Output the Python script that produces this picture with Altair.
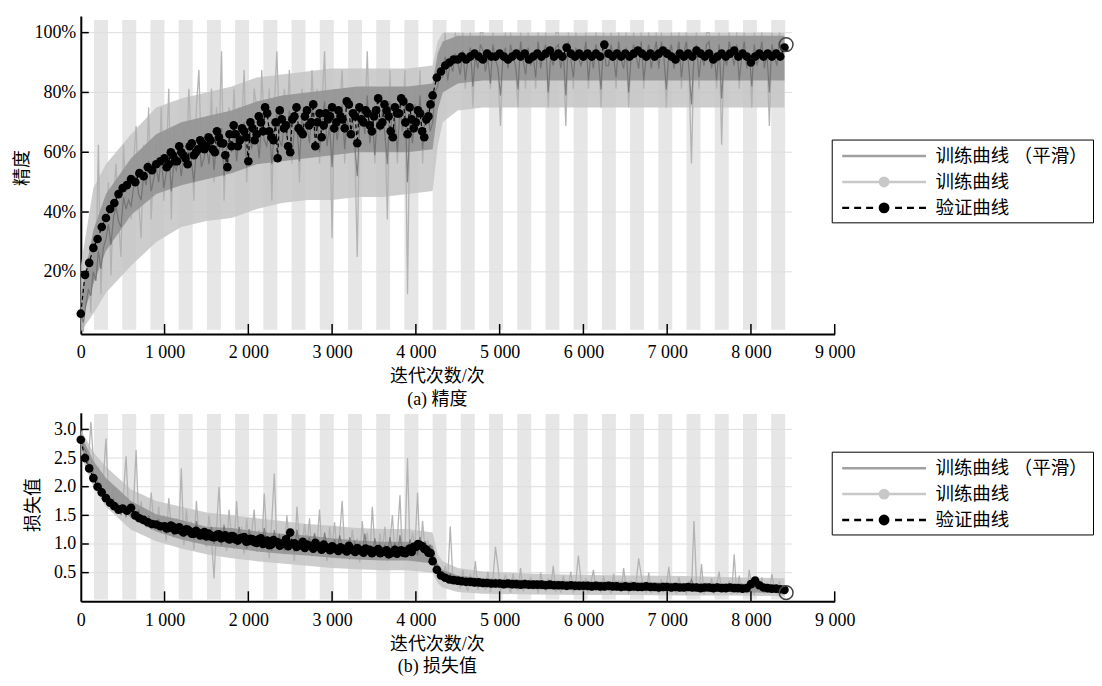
import altair as alt
import pandas as pd

FONT = "Liberation Serif, Noto Sans CJK SC"

# ---------------- data ----------------
TRAIN_STEP = 30          # iterations between recorded training values
VAL_STEP = 50            # iterations between validation values
VAL_EXTRA_START = 1025   # extra validation points between 1 000 and 4 200
FINAL_ITER = 8420

# raw training accuracy, in sixteenths (mini-batch of 16)
acc_train_16 = [
    1, 0, 2, 4, 1, 5, 3, 10, 2, 6,
    5, 8, 3, 7, 9, 6, 4, 10, 7, 8,
    6, 9, 11, 7, 5, 10, 8, 12, 6, 9,
    10, 8, 12, 7, 9, 13, 6, 11, 9, 10,
    8, 11, 9, 13, 10, 7, 12, 14, 9, 10,
    11, 9, 13, 8, 12, 10, 15, 7, 11, 12,
    10, 13, 9, 12, 11, 14, 8, 12, 10, 13,
    12, 9, 14, 11, 10, 13, 7, 12, 15, 11,
    10, 13, 11, 14, 9, 12, 12, 8, 13, 11,
    12, 10, 14, 11, 13, 9, 12, 15, 10, 12,
    5, 13, 10, 12, 14, 9, 12, 11, 13, 10,
    4, 12, 13, 11, 15, 10, 12, 9, 13, 11,
    13, 11, 6, 14, 10, 12, 9, 13, 11, 14,
    2, 12, 10, 13, 11, 14, 9, 12, 13, 11,
    12, 14, 13, 15, 14, 16, 13, 15, 14, 16,
    15, 14, 16, 13, 15, 16, 12, 15, 14, 16,
    16, 14, 15, 13, 16, 15, 14, 11, 15, 16,
    14, 16, 15, 14, 12, 16, 15, 13, 16, 14,
    15, 13, 16, 14, 15, 16, 12, 15, 14, 16,
    16, 14, 15, 11, 16, 15, 13, 16, 15, 14,
    15, 16, 13, 15, 14, 16, 15, 12, 16, 14,
    14, 16, 15, 13, 16, 15, 14, 16, 12, 15,
    16, 15, 14, 16, 13, 15, 16, 14, 15, 16,
    14, 16, 15, 12, 15, 16, 14, 15, 16, 13,
    15, 16, 14, 9, 15, 16, 13, 15, 14, 16,
    16, 14, 15, 13, 16, 10, 15, 14, 16, 15,
    14, 16, 13, 15, 16, 14, 15, 12, 16, 14,
    15, 16, 14, 15, 11, 16, 15, 14, 16, 15,
    15,
]

# smoothed training accuracy, percent
acc_smooth_pct = [
    6, 3, 9, 14, 12, 20, 17, 27, 21, 28,
    31, 36, 29, 38, 42, 37, 35, 45, 41, 44,
    42, 48, 53, 46, 44, 52, 49, 57, 47, 51,
    55, 50, 59, 48, 53, 60, 47, 56, 54, 58,
    52, 60, 56, 63, 57, 50, 61, 65, 55, 58,
    62, 56, 66, 54, 63, 59, 68, 52, 61, 64,
    60, 67, 57, 65, 63, 70, 55, 66, 61, 68,
    66, 58, 71, 64, 62, 69, 56, 67, 73, 64,
    62, 70, 65, 74, 58, 68, 69, 57, 72, 66,
    69, 63, 75, 66, 72, 60, 70, 77, 62, 69,
    55, 72, 64, 70, 76, 61, 71, 67, 73, 63,
    52, 70, 74, 66, 79, 63, 71, 59, 73, 67,
    74, 66, 56, 77, 64, 71, 60, 75, 67, 78,
    50, 71, 63, 76, 68, 79, 61, 72, 74, 67,
    70, 80, 82, 88, 85, 92, 84, 90, 87, 93,
    90, 86, 94, 84, 91, 95, 82, 92, 88, 96,
    94, 87, 92, 83, 96, 91, 88, 79, 92, 95,
    88, 96, 92, 89, 81, 97, 91, 86, 95, 89,
    92, 85, 97, 88, 93, 96, 80, 92, 89, 95,
    96, 88, 93, 79, 97, 91, 85, 95, 92, 89,
    92, 97, 84, 93, 88, 96, 91, 81, 97, 89,
    89, 96, 92, 85, 97, 91, 88, 95, 80, 92,
    96, 92, 88, 97, 84, 92, 96, 88, 93, 97,
    88, 97, 92, 81, 93, 96, 88, 92, 97, 85,
    93, 97, 88, 76, 92, 96, 85, 93, 89, 96,
    97, 88, 93, 84, 96, 78, 92, 89, 97, 93,
    89, 96, 84, 92, 97, 88, 93, 82, 96, 89,
    92, 97, 88, 93, 80, 96, 92, 89, 97, 93,
    94,
]

# dense core of the training strokes (percent), read at CORE_ITERS
CORE_ITERS = [0, 150, 300, 600, 900, 1200, 1500, 1800, 2100, 2400, 2700, 3000, 3300,
              3600, 3900, 4200, 4260, 4320, 4500, 4800, 5400, 6000, 6600, 7200, 7800, 8400]
acc_raw_core_lo = [0, 6, 13, 22, 30, 35, 37, 38, 41, 43, 44, 44, 45,
                   45, 46, 47, 62, 70, 74, 75, 75, 75, 75, 75, 75, 75]
acc_raw_core_hi = [22, 48, 56, 66, 75, 78, 80, 82, 85, 86, 87, 88, 88,
                   88, 88, 89, 97, 100, 100, 100, 100, 100, 100, 100, 100, 100]
acc_smooth_core_lo = [3, 16, 27, 39, 46, 49, 51, 53, 56, 57, 58, 59, 60,
                      60, 60, 61, 74, 80, 83, 84, 84, 84, 84, 84, 84, 84]
acc_smooth_core_hi = [12, 34, 46, 58, 66, 70, 72, 74, 77, 79, 80, 81, 82,
                      82, 82, 83, 93, 97, 99, 99, 99, 99, 99, 99, 99, 99]

# validation accuracy, percent
acc_val_pct = [
    6, 19, 23, 28, 31, 35, 38, 41, 43, 46,
    48, 49, 51, 50, 53, 52, 55, 54, 56, 57,
    58, 56, 59, 57, 60, 58, 62, 59, 61, 63,
    62, 64, 60, 65, 63, 55, 62, 66, 64, 67,
    57, 68, 66, 70, 75, 67, 64, 58, 71, 69,
    60, 72, 68, 66, 74, 70, 62, 73, 69, 71,
    75, 70, 72, 68, 76, 73, 63, 71, 74, 69,
    72, 78, 70, 74, 67, 75, 73, 77, 66, 71,
    70, 73, 65, 72, 79, 85, 87, 89, 90, 91,
    91, 92, 91, 92, 93, 92, 91, 93, 92, 92,
    93, 92, 91, 92, 93, 92, 93, 91, 92, 93,
    92, 93, 94, 92, 93, 92, 95, 93, 92, 93,
    92, 93, 92, 93, 92, 96, 93, 92, 93, 92,
    93, 92, 93, 94, 93, 92, 93, 92, 93, 94,
    93, 92, 91, 93, 92, 93, 92, 94, 93, 92,
    93, 91, 92, 93, 92, 93, 94, 92, 93, 92,
    90, 92, 93, 92, 93, 92, 93, 92, 95,
]
acc_val_extra_pct = [
    55, 60, 57, 62, 59, 56, 63, 60, 64, 61,
    65, 61, 67, 63, 59, 66, 69, 62, 68, 65,
    70, 64, 72, 67, 73, 65, 70, 74, 68, 62,
    71, 75, 67, 72, 69, 76, 70, 65, 73, 72,
    68, 74, 71, 77, 66, 72, 75, 70, 73, 67,
    74, 69, 76, 72, 65, 73, 78, 70, 75, 68,
    74, 67, 71, 76,
]
acc_final = 0.96

# raw training loss, hundredths
loss_train_x100 = [
    290, 275, 262, 240, 313, 248, 220, 232, 205, 215,
    284, 190, 175, 198, 160, 172, 150, 188, 253, 162,
    150, 170, 264, 142, 175, 135, 160, 128, 190, 140,
    125, 165, 118, 150, 105, 180, 130, 112, 145, 120,
    232, 98, 160, 115, 140, 90, 175, 108, 130, 118,
    95, 150, 110, 40, 128, 200, 102, 135, 88, 160,
    110, 92, 175, 105, 130, 82, 145, 98, 120, 160,
    86, 125, 95, 188, 108, 75, 140, 223, 100, 90,
    115, 82, 150, 96, 128, 70, 165, 105, 88, 135,
    92, 145, 78, 120, 100, 160, 85, 112, 70, 130,
    95, 138, 80, 115, 175, 88, 105, 72, 125, 90,
    110, 68, 140, 85, 120, 78, 165, 95, 75, 118,
    88, 130, 70, 105, 150, 80, 112, 185, 75, 98,
    250, 82, 120, 95, 190, 78, 140, 88, 105, 92,
    85, 70, 58, 48, 40, 62, 35, 131, 45, 38,
    42, 22, 55, 30, 18, 48, 28, 70, 20, 40,
    35, 20, 52, 16, 38, 95, 60, 18, 33, 45,
    30, 15, 48, 26, 20, 58, 17, 36, 24, 42,
    22, 35, 14, 50, 26, 18, 40, 24, 62, 16,
    32, 15, 45, 22, 28, 52, 14, 35, 80, 38,
    18, 40, 14, 33, 55, 20, 30, 15, 44, 24,
    28, 13, 48, 20, 35, 16, 58, 24, 14, 36,
    18, 34, 75, 45, 24, 16, 50, 14, 30, 20,
    14, 38, 18, 26, 60, 15, 30, 13, 42, 22,
    26, 13, 35, 18, 140, 30, 15, 65, 12, 33,
    16, 40, 13, 28, 52, 15, 30, 18, 36, 12,
    82, 13, 45, 16, 30, 14, 55, 20, 12, 34,
    18, 42, 13, 30, 14, 48, 22, 15, 35, 12,
    16,
]

# smoothed training loss, hundredths
loss_smooth_x100 = [
    286, 270, 262, 240, 238, 222, 218, 200, 204, 186,
    182, 176, 170, 178, 160, 168, 152, 163, 148, 158,
    150, 158, 142, 160, 138, 146, 132, 150, 128, 140,
    130, 142, 122, 138, 118, 134, 125, 115, 136, 120,
    128, 112, 135, 118, 124, 108, 140, 115, 120, 110,
    118, 105, 130, 100, 125, 112, 98, 132, 105, 118,
    108, 122, 96, 130, 104, 115, 92, 126, 100, 112,
    98, 118, 92, 128, 102, 110, 88, 124, 96, 115,
    100, 90, 120, 95, 108, 86, 125, 98, 104, 92,
    96, 112, 88, 118, 92, 104, 84, 120, 94, 100,
    90, 108, 82, 115, 94, 98, 80, 112, 88, 104,
    86, 102, 80, 118, 90, 96, 78, 110, 85, 100,
    88, 98, 78, 112, 84, 102, 80, 115, 86, 96,
    82, 108, 86, 100, 80, 112, 84, 105, 90, 98,
    80, 72, 60, 52, 46, 44, 40, 48, 38, 36,
    38, 34, 42, 32, 36, 30, 40, 31, 35, 33,
    32, 36, 29, 34, 30, 38, 28, 33, 31, 35,
    30, 33, 28, 36, 29, 32, 27, 34, 30, 31,
    29, 33, 27, 35, 28, 31, 26, 34, 29, 30,
    28, 32, 26, 33, 29, 30, 25, 34, 28, 31,
    27, 31, 26, 33, 28, 30, 25, 32, 27, 29,
    28, 31, 25, 33, 27, 30, 26, 32, 28, 29,
    26, 30, 25, 32, 27, 29, 24, 31, 26, 28,
    25, 30, 24, 32, 27, 28, 24, 31, 26, 29,
    26, 29, 24, 38, 26, 30, 24, 31, 25, 28,
    25, 29, 24, 31, 26, 28, 23, 30, 25, 27,
    24, 29, 23, 30, 25, 27, 23, 29, 24, 28,
    24, 28, 23, 29, 25, 27, 22, 28, 24, 26,
    22,
]

# dense core of the loss strokes (hundredths), read at CORE_ITERS
loss_raw_core_lo = [255, 200, 165, 125, 105, 92, 82, 75, 70, 66, 62, 58, 56,
                    54, 54, 50, 32, 24, 16, 13, 12, 11, 11, 10, 10, 9]
loss_raw_core_hi = [300, 260, 235, 195, 175, 165, 155, 150, 145, 140, 135, 132, 128,
                    126, 126, 120, 82, 70, 58, 52, 48, 46, 45, 44, 42, 40]
loss_smooth_core_lo = [270, 215, 185, 145, 122, 108, 98, 93, 87, 83, 80, 76, 73,
                       71, 71, 66, 45, 36, 28, 24, 21, 19, 18, 17, 16, 14]
loss_smooth_core_hi = [292, 245, 215, 175, 152, 142, 130, 128, 122, 118, 115, 110, 106,
                       104, 104, 98, 66, 55, 45, 40, 37, 35, 34, 32, 31, 28]

# validation loss, hundredths
loss_val_x100 = [
    282, 250, 232, 215, 200, 190, 180, 172, 166, 160,
    162, 158, 163, 150, 145, 142, 138, 135, 134, 131,
    131, 128, 130, 126, 123, 125, 122, 118, 120, 116,
    113, 115, 112, 117, 113, 110, 114, 108, 110, 112,
    105, 108, 102, 110, 104, 98, 107, 103, 100, 108,
    120, 101, 97, 104, 99, 96, 102, 95, 99, 93,
    96, 91, 94, 90, 97, 89, 93, 88, 92, 90,
    87, 91, 86, 89, 84, 90, 87, 85, 88, 86,
    95, 98, 92, 85, 70, 55, 45, 41, 38, 37,
    36, 35, 34, 34, 33, 33, 32, 32, 31, 31,
    31, 30, 31, 30, 30, 29, 30, 29, 29, 29,
    29, 28, 29, 28, 28, 28, 27, 28, 27, 27,
    27, 27, 26, 27, 26, 26, 27, 26, 26, 25,
    26, 25, 26, 25, 25, 26, 25, 25, 24, 25,
    25, 24, 25, 24, 24, 25, 24, 24, 23, 24,
    24, 23, 24, 23, 23, 24, 23, 23, 22, 23,
    30, 36, 28, 24, 23, 22, 22, 21, 20,
]
loss_val_extra_x100 = [
    127, 132, 124, 129, 120, 125, 118, 123, 115, 121,
    118, 112, 116, 110, 115, 108, 113, 106, 111, 104,
    109, 103, 108, 100, 106, 99, 104, 97, 102, 96,
    100, 95, 99, 93, 97, 92, 96, 90, 94, 89,
    93, 88, 92, 87, 91, 86, 90, 85, 89, 84,
    88, 84, 87, 82, 86, 83, 89, 84, 92, 95,
    100, 96, 90, 84,
]
loss_final = 0.15

X_TICKS = [0, 1000, 2000, 3000, 4000, 5000, 6000, 7000, 8000, 9000]
ACC_TICKS = [0.2, 0.4, 0.6, 0.8, 1.0]
LOSS_TICKS = [0.5, 1.0, 1.5, 2.0, 2.5, 3.0]
LEGEND_ITEMS = ["训练曲线 （平滑）", "训练曲线", "验证曲线"]

EPOCH_ITERS = 168.4
N_SHADED = 25
GRID_END = 8490

# ---------------- styling ----------------
PLOT_W = 756
C_BAND = "#e6e6e6"
C_GRID = "#dedede"
C_RAW = "#b0b0b0"
C_RAW_CORE = "#c4c4c4"
C_SMOOTH = "#6c6c6c"
C_SMOOTH_CORE = "#939393"

SYMBOL_PATHS = [
    "M-4.2,0H4.2",
    "M-4.2,0H4.2M0.42,0A0.42,0.42,0,1,1,-0.42,0A0.42,0.42,0,1,1,0.42,0Z",
    "M-4.2,0H-3.5M-3,0H-2.3M-1.8,0H-1.1M1.1,0H1.8M2.3,0H3M3.5,0H4.2"
    "M0.42,0A0.42,0.42,0,1,1,-0.42,0A0.42,0.42,0,1,1,0.42,0Z",
]
LEGEND_FILL = ["#a0a0a0", "#c8c8c8", "#000000"]
LEGEND_STROKE = ["#a0a0a0", "#c8c8c8", "#000000"]


def series_df(vals, step, factor, start=0):
    return pd.DataFrame({"iter": [start + i * step for i in range(len(vals))],
                         "v": [v * factor for v in vals]})


def core_df(lo, hi, factor):
    return pd.DataFrame({"iter": CORE_ITERS, "lo": [v * factor for v in lo],
                         "hi": [v * factor for v in hi]})


def panel(raw, smooth, raw_core, smooth_core, val, final_v, ydomain, yticks, yfmt,
          ytitle, caption, height, band_lo, band_hi, ytitle_x, ytitle_y, legend_y,
          xtitle_y):
    xs = alt.Scale(domain=[0, 9000], nice=False, zero=False)
    ys = alt.Scale(domain=ydomain, nice=False, zero=False)

    x_axis = alt.Axis(
        values=X_TICKS, labelExpr="replace(format(datum.value, ','), ',', ' ')",
        labelFlush=False, labelOverlap=False, ticks=False, grid=False,
        domainColor="black", domainWidth=2, labelPadding=10,
        labelFont=FONT, labelFontSize=18, labelColor="black",
        title=["迭代次数/次", caption], titleFont=FONT, titleFontSize=18,
        titleFontWeight="normal", titleColor="black", titleX=357, titleY=xtitle_y,
        titleAlign="center", titleBaseline="top", titleLineHeight=22.5,
    )
    y_axis = alt.Axis(
        values=yticks, format=yfmt, ticks=False, grid=False,
        domainColor="black", domainWidth=2, labelPadding=5,
        labelFont=FONT, labelFontSize=18, labelColor="black",
        title=ytitle, titleFont=FONT, titleFontSize=18, titleFontWeight="normal",
        titleColor="black", titleX=ytitle_x, titleY=ytitle_y, titleAngle=270,
        titleAlign="center", titleBaseline="middle",
    )

    def X(f):
        return alt.X(f, scale=xs, axis=x_axis)

    def Y(f):
        return alt.Y(f, scale=ys, axis=y_axis)

    starts = [(2 * k + 1) * EPOCH_ITERS - 10 for k in range(N_SHADED)]
    bands_df = pd.DataFrame({"s": starts, "e": [s + EPOCH_ITERS - 2 for s in starts],
                             "lo": band_lo, "hi": band_hi})
    bands = alt.Chart(bands_df).mark_rect(color=C_BAND).encode(
        x=X("s:Q"), x2="e:Q", y=Y("lo:Q"), y2="hi:Q")

    grid_df = pd.DataFrame({"y": yticks, "x0": 0, "x1": GRID_END})
    grid = alt.Chart(grid_df).mark_rule(color=C_GRID, strokeWidth=1).encode(
        x=X("x0:Q"), x2="x1:Q", y=Y("y:Q"))

    raw_area = alt.Chart(raw_core).mark_area(color=C_RAW_CORE, opacity=0.85).encode(
        x=X("iter:Q"), y=Y("lo:Q"), y2="hi:Q")
    raw_line = alt.Chart(raw).mark_line(color=C_RAW, strokeWidth=1.3, opacity=0.95).encode(
        x=X("iter:Q"), y=Y("v:Q"))
    smooth_area = alt.Chart(smooth_core).mark_area(color=C_SMOOTH_CORE, opacity=0.9).encode(
        x=X("iter:Q"), y=Y("lo:Q"), y2="hi:Q")
    smooth_line = alt.Chart(smooth).mark_line(color=C_SMOOTH, strokeWidth=1.2, opacity=0.8).encode(
        x=X("iter:Q"), y=Y("v:Q"))
    val_line = alt.Chart(val).mark_line(color="black", strokeWidth=1.2, strokeDash=[4, 3]).encode(
        x=X("iter:Q"), y=Y("v:Q"), order="iter:Q")
    val_pts = alt.Chart(val).mark_circle(color="black", size=75, opacity=1).encode(
        x=X("iter:Q"), y=Y("v:Q"))

    final_df = pd.DataFrame({"iter": [FINAL_ITER], "v": [final_v]})
    final_ring = alt.Chart(final_df).mark_point(
        filled=False, size=190, stroke="#444444", strokeWidth=1.5, opacity=1).encode(
        x=X("iter:Q"), y=Y("v:Q"))

    x_ticks_df = pd.DataFrame({"t": X_TICKS[1:]})
    xticks = alt.Chart(x_ticks_df).mark_rule(color="black", strokeWidth=1.5).encode(
        x=X("t:Q"), y=alt.value(height), y2=alt.value(height - 10))
    y_ticks_df = pd.DataFrame({"t": yticks})
    yticks_m = alt.Chart(y_ticks_df).mark_rule(color="black", strokeWidth=1.5).encode(
        y=Y("t:Q"), x=alt.value(0), x2=alt.value(8))

    leg = alt.Legend(
        title=None, orient="none", legendX=753, legendY=legend_y,
        strokeColor="black", padding=5, symbolSize=400, symbolStrokeWidth=2.5,
        symbolOffset=36, labelOffset=40, rowPadding=5, symbolOpacity=1,
        labelFont=FONT, labelFontSize=18.5, labelColor="black", labelLimit=400,
    )
    legend_df = pd.DataFrame({"series": LEGEND_ITEMS})
    legend_layer = alt.Chart(legend_df).mark_point(filled=True).encode(
        shape=alt.Shape("series:N", scale=alt.Scale(domain=LEGEND_ITEMS, range=SYMBOL_PATHS), legend=leg),
        fill=alt.Fill("series:N", scale=alt.Scale(domain=LEGEND_ITEMS, range=LEGEND_FILL), legend=leg),
        stroke=alt.Stroke("series:N", scale=alt.Scale(domain=LEGEND_ITEMS, range=LEGEND_STROKE), legend=leg),
    ).transform_filter("false")

    return alt.layer(bands, grid, raw_area, raw_line, smooth_area, smooth_line,
                     val_line, val_pts, final_ring, xticks, yticks_m,
                     legend_layer).properties(width=PLOT_W, height=height)


acc_val_df = pd.concat([series_df(acc_val_pct, VAL_STEP, 0.01),
                        series_df(acc_val_extra_pct, VAL_STEP, 0.01, VAL_EXTRA_START)])
loss_val_df = pd.concat([series_df(loss_val_x100, VAL_STEP, 0.01),
                         series_df(loss_val_extra_x100, VAL_STEP, 0.01, VAL_EXTRA_START)])

top = panel(series_df(acc_train_16, TRAIN_STEP, 1 / 16),
            series_df(acc_smooth_pct, TRAIN_STEP, 0.01),
            core_df(acc_raw_core_lo, acc_raw_core_hi, 0.01),
            core_df(acc_smooth_core_lo, acc_smooth_core_hi, 0.01),
            acc_val_df, acc_final,
            [-0.008, 1.056], ACC_TICKS, ".0%", "精度", "(a) 精度",
            319, 0.006, 1.042, -58, 152, 124, 34)

bottom = panel(series_df(loss_train_x100, TRAIN_STEP, 0.01),
               series_df(loss_smooth_x100, TRAIN_STEP, 0.01),
               core_df(loss_raw_core_lo, loss_raw_core_hi, 0.01),
               core_df(loss_smooth_core_lo, loss_smooth_core_hi, 0.01),
               loss_val_df, loss_final,
               [0, 3.29], LOSS_TICKS, ".1f", "损失值", "(b) 损失值",
               189, 0.03, 3.27, -47, 92, 39, 34)

chart = alt.vconcat(top, bottom, spacing=3).resolve_scale(
    shape="independent", fill="independent", stroke="independent"
).properties(
    padding={"left": 5, "top": 6, "right": 0, "bottom": 0}
).configure(font=FONT).configure_view(stroke="transparent")

chart.save("out.html", embed_options={"renderer": "svg", "actions": False})
